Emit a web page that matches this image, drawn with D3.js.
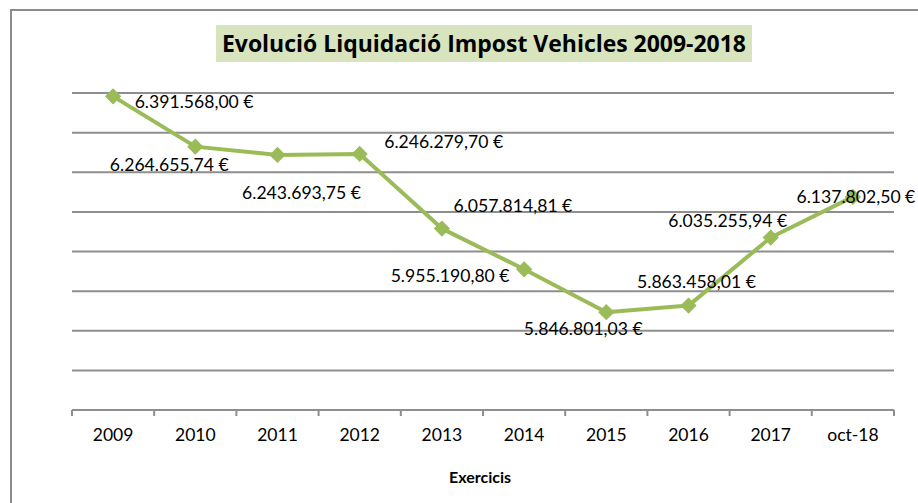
<!DOCTYPE html>
<html>
<head>
<meta charset="utf-8">
<script src="https://cdn.jsdelivr.net/npm/d3@7"></script>
<style>
  html, body { margin: 0; padding: 0; background: #fff; }
  svg { display: block; }
</style>
</head>
<body>
<svg id="chart" width="918" height="503"></svg>
<script>
// ---- data ----
const categories = ["2009", "2010", "2011", "2012", "2013", "2014", "2015", "2016", "2017", "oct-18"];
const values = [6391568.00, 6264655.74, 6243693.75, 6246279.70, 6057814.81, 5955190.80, 5846801.03, 5863458.01, 6035255.94, 6137802.50];
const yTicks = [5600000, 5700000, 5800000, 5900000, 6000000, 6100000, 6200000, 6300000, 6400000];
const titleText = "Evolució Liquidació Impost Vehicles 2009-2018";
const xAxisTitle = "Exercicis";

// ---- layout (label placement, Excel-style) ----
const labelOffsets = [[81, 12], [-26, 24], [24, 44], [84, -6], [71, -17], [-74, 13], [-23, 23], [8, -18], [-43, -11], [3, 6]];

const svg = d3.select("#chart");
const plot = { left: 72, right: 894, top: 93, bottom: 410 };
const FONT = "Lato, 'Open Sans', sans-serif";

// chart frame
svg.append("rect").attr("x", 11).attr("y", 10).attr("width", 1000).attr("height", 600)
  .attr("fill", "#fff").attr("stroke", "#8c8c8c").attr("stroke-width", 2);

// title box
const tg = svg.append("g");
tg.append("rect").attr("x", 216).attr("y", 25).attr("width", 536).attr("height", 37).attr("fill", "#d7e4bd");
tg.append("text").attr("x", 484).attr("y", 52).attr("text-anchor", "middle")
  .attr("font-family", "'Liberation Sans Narrow', 'Open Sans', sans-serif")
  .attr("font-weight", "bold").attr("font-size", 23).attr("fill", "#000")
  .attr("textLength", 524).attr("lengthAdjust", "spacingAndGlyphs")
  .text(titleText);

// scales
const x = d3.scaleBand().domain(categories).range([plot.left, plot.right]).padding(0);
const y = d3.scaleLinear().domain([5600000, 6400000]).range([plot.bottom, plot.top]);

// gridlines
svg.append("g").selectAll("line").data(yTicks).join("line")
  .attr("x1", plot.left).attr("x2", plot.right)
  .attr("y1", d => y(d)).attr("y2", d => y(d))
  .attr("stroke", "#8e8e8e").attr("stroke-width", 2);

// x axis
const xAxis = d3.axisBottom(x).tickSize(0).tickPadding(0);
const ax = svg.append("g").attr("transform", `translate(0,${plot.bottom})`).call(xAxis)
  .attr("font-family", FONT).attr("font-size", 17.5);
ax.select(".domain").remove();
ax.selectAll("text").attr("font-weight", 400)
  .attr("fill", "#000").attr("dy", null).attr("y", 31);
// tick marks at band edges
const edges = categories.map(c => x(c)).concat([plot.right]);
svg.append("g").selectAll("line").data(edges).join("line")
  .attr("x1", d => d).attr("x2", d => d).attr("y1", plot.bottom).attr("y2", plot.bottom + 6)
  .attr("stroke", "#8e8e8e").attr("stroke-width", 2);

// axis title
svg.append("text").attr("x", 480).attr("y", 483).attr("text-anchor", "middle")
  .attr("font-family", FONT).attr("font-weight", "bold").attr("font-size", 16)
  .attr("fill", "#000").text(xAxisTitle);

// line
const cx = c => x(c) + x.bandwidth() / 2;
const line = d3.line().x((d, i) => cx(categories[i])).y(d => y(d));
svg.append("path").datum(values).attr("d", line).attr("fill", "none")
  .attr("stroke", "#9bbb59").attr("stroke-width", 4).attr("stroke-linejoin", "round");

// markers (diamonds)
svg.append("g").selectAll("path").data(values).join("path")
  .attr("d", d3.symbol().type(d3.symbolSquare).size(110))
  .attr("transform", (d, i) => `translate(${cx(categories[i])},${y(d)}) rotate(45)`)
  .attr("fill", "#9bbb59").attr("stroke", "#9bbb59").attr("stroke-width", 1);

// data labels
const loc = d3.formatLocale({ decimal: ",", thousands: ".", grouping: [3], currency: ["", "\u00A0€"] });
const fmt = loc.format("$,.2f");
svg.append("g").selectAll("text").data(values).join("text")
  .attr("x", (d, i) => cx(categories[i]) + labelOffsets[i][0])
  .attr("y", (d, i) => y(d) + labelOffsets[i][1])
  .attr("text-anchor", "middle")
  .attr("font-family", FONT).attr("font-weight", 400).attr("font-size", 17.6).attr("fill", "#000")
  .text(d => fmt(d));
</script>
</body>
</html>
